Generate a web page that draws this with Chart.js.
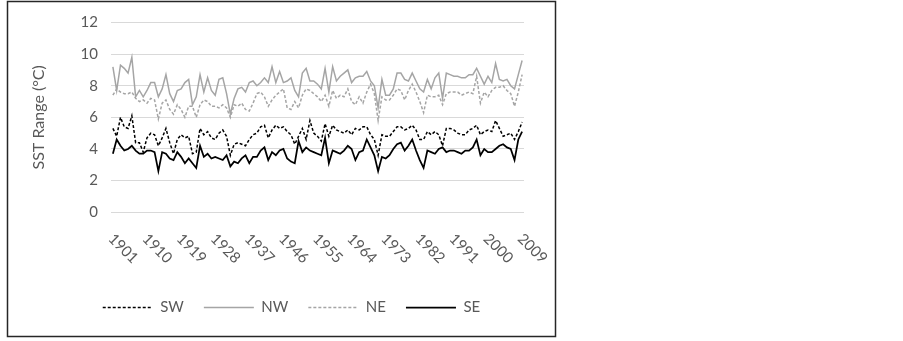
<!DOCTYPE html>
<html>
<head>
<meta charset="utf-8">
<script src="https://cdn.jsdelivr.net/npm/chart.js@4.4.1/dist/chart.umd.min.js"></script>
<style>
  html, body { margin: 0; padding: 0; background: #fff; }
</style>
</head>
<body>
<canvas id="sstCanvas" width="903" height="341"></canvas>
<script>
// categories: one per year, 1901..2009
const years = [];
for (let y = 1901; y <= 2009; y++) years.push(String(y));

const tickYears = ["1901", "1910", "1919", "1928", "1937", "1946", "1955", "1964", "1973", "1982", "1991", "2000", "2009"];

const sw = [
  5.3, 4.8, 6.0, 5.4, 5.3, 6.1, 4.4, 4.4, 3.8, 4.7, 5.0, 4.9, 4.2, 4.7, 5.3, 4.4, 3.7, 4.6,
  4.9, 4.7, 4.8, 3.7, 3.8, 5.3, 4.9, 5.1, 4.7, 4.6, 5.0, 5.2, 4.8, 3.6, 4.3, 4.4, 4.3, 4.2,
  4.6, 4.9, 5.0, 5.4, 5.5, 4.7, 5.2, 5.5, 5.3, 5.4, 5.1, 4.9, 4.3, 4.8, 5.3, 4.6, 5.8, 5.0, 4.8,
  4.5, 5.6, 4.8, 5.5, 5.2, 5.1, 5.0, 5.2, 4.9, 5.3, 5.2, 5.4, 5.4, 4.9, 4.6, 3.6, 4.9, 4.8,
  4.8, 5.1, 5.4, 5.4, 5.2, 5.3, 5.5, 5.2, 4.6, 4.6, 5.1, 4.9, 5.1, 4.9, 4.2, 5.3, 5.3, 5.2, 5.0,
  4.9, 4.9, 5.2, 5.3, 5.5, 4.9, 5.1, 5.2, 5.1, 5.8, 5.3, 4.8, 4.9, 5.0, 4.6, 5.1, 5.7
];

const nw = [
  9.2, 7.7, 9.3, 9.1, 8.8, 9.8, 7.3, 7.7, 7.3, 7.7, 8.2, 8.2, 7.3, 7.8, 8.7, 7.5, 7.0, 7.7,
  7.8, 8.2, 8.4, 6.8, 7.3, 8.7, 7.6, 8.5, 7.7, 7.4, 8.4, 8.5, 7.5, 6.2, 7.2, 7.8, 7.9, 7.6,
  8.2, 8.3, 8.0, 8.2, 8.5, 8.2, 9.2, 8.2, 8.9, 8.2, 8.3, 8.5, 7.7, 7.3, 8.8, 9.1, 8.3, 8.3, 8.1,
  7.8, 9.1, 7.6, 9.2, 8.3, 8.6, 8.8, 9.0, 8.2, 8.5, 8.6, 8.6, 8.9, 8.3, 8.0, 6.6, 8.4, 7.4,
  7.4, 7.8, 8.8, 8.8, 8.4, 8.3, 8.8, 8.3, 7.8, 7.6, 8.4, 7.8, 8.5, 8.8, 7.2, 8.8, 8.7, 8.6, 8.6,
  8.5, 8.5, 8.7, 8.7, 9.1, 8.6, 8.1, 8.6, 8.2, 9.4, 8.4, 8.3, 8.4, 8.0, 7.8, 8.7, 9.6
];

const ne = [
  7.4, 7.8, 7.6, 7.5, 7.5, 7.6, 7.2, 7.0, 7.1, 6.9, 7.2, 7.1, 5.9, 6.9, 7.1, 6.5, 6.2, 6.8,
  6.5, 6.0, 6.7, 6.7, 6.0, 6.8, 7.1, 7.0, 6.7, 6.7, 6.6, 6.8, 6.6, 6.0, 6.8, 6.7, 6.9, 6.5,
  6.4, 6.9, 7.5, 7.6, 7.3, 6.7, 7.1, 7.4, 7.6, 7.8, 6.6, 6.5, 7.0, 6.6, 7.4, 7.8, 7.7, 7.5, 7.3,
  7.0, 7.4, 6.7, 7.7, 7.2, 7.4, 7.3, 7.8, 7.0, 6.8, 7.3, 6.9, 7.6, 8.1, 7.5, 5.8, 7.3, 7.1,
  7.1, 7.4, 7.8, 7.7, 7.1, 7.7, 8.1, 7.6, 7.0, 6.3, 7.4, 7.3, 7.3, 7.4, 6.8, 7.5, 7.6, 7.6, 7.6,
  7.4, 7.5, 7.6, 7.5, 8.6, 6.9, 7.6, 7.3, 7.7, 7.9, 7.9, 8.0, 7.7, 7.5, 6.7, 7.6, 8.7
];

const se = [
  3.7, 4.6, 4.2, 3.9, 4.0, 4.2, 3.9, 3.7, 3.7, 3.9, 3.9, 3.8, 2.6, 3.8, 3.7, 3.4, 3.3, 3.8,
  3.5, 3.1, 3.4, 3.1, 2.8, 4.2, 3.5, 3.7, 3.4, 3.5, 3.4, 3.3, 3.6, 2.9, 3.2, 3.1, 3.4, 3.6,
  3.1, 3.5, 3.5, 3.9, 4.1, 3.3, 3.8, 3.6, 3.9, 4.0, 3.4, 3.2, 3.1, 4.5, 3.8, 4.1, 3.9, 3.8, 3.7,
  3.6, 4.7, 3.1, 3.9, 3.8, 3.7, 3.9, 4.2, 4.0, 3.3, 3.8, 3.9, 4.6, 4.1, 3.6, 2.6, 3.5, 3.4,
  3.6, 4.0, 4.3, 4.4, 3.9, 4.2, 4.6, 3.9, 3.3, 2.8, 3.9, 3.8, 3.7, 4.0, 4.1, 3.8, 3.9, 3.9, 3.8,
  3.7, 3.9, 3.9, 4.1, 4.6, 3.6, 4.0, 3.8, 3.8, 4.0, 4.2, 4.3, 4.1, 4.0, 3.3, 4.6, 5.1
];

const textGray = '#595959';
const font = 'Lato';

// year labels slanted downwards to the right, as in the original
const slantedYears = {
  id: 'slantedYears',
  afterDraw(chart) {
    const xs = chart.scales.x;
    const ctx = chart.ctx;
    ctx.save();
    ctx.font = '15px ' + font;
    ctx.fillStyle = textGray;
    ctx.textAlign = 'left';
    ctx.textBaseline = 'middle';
    tickYears.forEach(label => {
      const px = xs.getPixelForValue(years.indexOf(label));
      ctx.save();
      ctx.translate(px - 2, xs.top + 24);
      ctx.rotate(Math.PI / 4);
      ctx.fillText(label, 0, 0);
      ctx.restore();
    });
    ctx.restore();
  }
};

const frame = {
  id: 'frame',
  afterDraw(chart) {
    const ctx = chart.ctx;
    ctx.save();
    ctx.strokeStyle = '#262626';
    ctx.lineWidth = 1.5;
    ctx.strokeRect(7.5, 1.5, 548, 335);
    ctx.restore();
  }
};

const line = (label, data, color, width, dash) => ({
  label: label,
  data: data,
  borderColor: color,
  backgroundColor: color,
  borderWidth: width,
  borderDash: dash,
  pointRadius: 0,
  tension: 0,
  fill: false
});

const config = {
  type: 'line',
  data: {
    labels: years,
    datasets: [
      line('SW', sw, '#000000', 1.5, [3, 2]),
      line('NW', nw, '#a5a5a5', 1.5, []),
      line('NE', ne, '#a5a5a5', 1.5, [3, 2]),
      line('SE', se, '#000000', 1.75, [])
    ]
  },
  options: {
    responsive: false,
    animation: false,
    layout: { padding: { left: 25, right: 345, top: 22.5, bottom: 16 } },
    plugins: {
      tooltip: { enabled: false },
      legend: {
        position: 'bottom',
        labels: {
          usePointStyle: true,
          pointStyle: 'line',
          pointStyleWidth: 50,
          padding: 20,
          color: textGray,
          font: { family: font, size: 15 },
          // keep the dataset's dash and width on the legend line
          generateLabels(chart) {
            const items = Chart.defaults.plugins.legend.labels.generateLabels(chart);
            items.forEach(item => {
              const ds = chart.data.datasets[item.datasetIndex];
              item.lineDash = ds.borderDash;
              item.lineWidth = ds.borderWidth;
              item.strokeStyle = ds.borderColor;
            });
            return items;
          }
        }
      }
    },
    scales: {
      x: {
        offset: true,
        grid: { display: false },
        border: { display: false },
        ticks: { display: false },
        afterFit(s) { s.height = 67.8; }
      },
      y: {
        min: 0,
        max: 12,
        ticks: { stepSize: 2, color: textGray, padding: 13, font: { family: font, size: 15 } },
        grid: { color: '#d9d9d9', drawTicks: false },
        border: { display: false },
        title: { display: true, text: 'SST Range (°C)', color: textGray, font: { family: font, size: 16 } },
        afterFit(s) { s.width = 86; }
      },
      yR: {
        position: 'right',
        grid: { display: false },
        border: { display: false },
        ticks: { display: false },
        afterFit(s) { s.width = 34; }
      }
    }
  },
  plugins: [slantedYears, frame]
};

const canvas = document.getElementById('sstCanvas');
if (canvas) {
  new Chart(canvas.getContext('2d'), config);
} else {
  console.error('Canvas not found.');
}
</script>
</body>
</html>
